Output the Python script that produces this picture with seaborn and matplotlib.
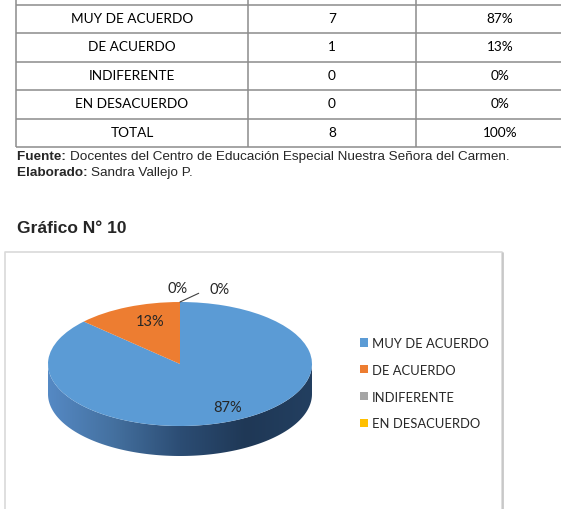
import matplotlib
matplotlib.use("Agg")
import matplotlib.pyplot as plt
import numpy as np
import seaborn as sns
from matplotlib.patches import Polygon
from matplotlib.colors import LinearSegmentedColormap

# Data
categorias = ["MUY DE ACUERDO", "DE ACUERDO", "INDIFERENTE", "EN DESACUERDO"]
frecuencia = [7, 1, 0, 0]
porcentaje = [87, 13, 0, 0]
colores = ["#5B9BD5", "#ED7D31", "#A5A5A5", "#FFC000"]

fuente = "Docentes del Centro de Educación Especial Nuestra Señora del Carmen."
elaborado = "Sandra Vallejo P."
titulo = "Gráfico N° 10"

sns.set_theme(style="white")
plt.rcParams["font.family"] = ["Lato", "DejaVu Sans"]
palette = sns.color_palette(colores)

W, H = 561, 510
fig = plt.figure(figsize=(W / 100, H / 100), dpi=100)
fig.patch.set_facecolor("white")

# Page layer in pixel coordinates
page = fig.add_axes([0, 0, 1, 1])
page.set_xlim(0, W)
page.set_ylim(H, 0)
page.axis("off")

# Table
col_x = [16, 248, 416]
row_y = [5.5 + 28.5 * i for i in range(6)]
line_col = "#8c8c8c"
page.hlines(row_y, col_x[0], W + 5, color=line_col, lw=1.1)
page.vlines(col_x, 0, row_y[-1], color=line_col, lw=1.1)

filas = [(c, str(f), f"{p}%") for c, f, p in zip(categorias, frecuencia, porcentaje)]
filas.append(("TOTAL", str(sum(frecuencia)), f"{sum(porcentaje)}%"))
centros_x = [132, 332, 500]
for i, fila in enumerate(filas):
    yc = (row_y[i] + row_y[i + 1]) / 2 - 1
    for cx, txt in zip(centros_x, fila):
        page.text(cx, yc, txt, ha="center", va="center", fontsize=9.8, color="black")

# Source notes
arial = ["Liberation Sans", "DejaVu Sans"]
t = page.text(17, 157, "Fuente: ", fontsize=9.7, fontweight="bold", family=arial, va="center")
page.annotate(fuente, xycoords=t, xy=(1, 0.5), va="center", fontsize=9.7, family=arial)
t = page.text(17, 173, "Elaborado: ", fontsize=9.7, fontweight="bold", family=arial, va="center")
page.annotate(elaborado, xycoords=t, xy=(1, 0.5), va="center", fontsize=9.7, family=arial)

page.text(17, 229, titulo, fontsize=12.5, fontweight="bold", family=arial, va="center")

# Chart frame
page.plot([5, 5, 502, 502], [H + 5, 253, 253, H + 5], color="#d9d9d9", lw=1.2)
page.plot([503, 503], [254, H + 5], color="#c4c4c4", lw=1.2)

# Pie axes (ellipse center 180,365 ; a=132, b=62 ; depth 30 px)
cx, cy, a, b, dep = 180, 365, 132, 62, 30
d = dep / b
pie_ax = fig.add_axes([(cx - a) / W, (H - (cy + b + dep)) / H, 2 * a / W, (2 * b + dep) / H])
pie_ax.set_facecolor("none")

# Side of the 3D pie
t_side = np.linspace(np.pi, 2 * np.pi, 200)
top = np.column_stack([np.cos(t_side), np.sin(t_side)])
bot = np.column_stack([np.cos(t_side[::-1]), np.sin(t_side[::-1]) - d])
side = Polygon(np.vstack([top, bot]), closed=True, facecolor="none", edgecolor="none")
pie_ax.add_patch(side)
cmap = LinearSegmentedColormap.from_list("lado", ["#5589c4", "#44709f", "#2c4d74", "#1f3856", "#233f60"])
grad = np.linspace(0, 1, 256).reshape(1, -1)
im = pie_ax.imshow(grad, cmap=cmap, extent=[-1, 1, -1 - d, 0], aspect="auto", zorder=1)
im.set_clip_path(side)

wedges, _ = pie_ax.pie(porcentaje, colors=palette, startangle=90, counterclock=False,
                       radius=1, center=(0, 0), wedgeprops=dict(linewidth=0),
                       frame=False)
for w in wedges:
    w.set_zorder(2)
pie_ax.set_aspect("auto")
pie_ax.set_xlim(-1, 1)
pie_ax.set_ylim(-1 - d, 1)
pie_ax.axis("off")

# Percentage labels
for w, p in zip(wedges, porcentaje):
    if p == 0:
        continue
    ang = np.deg2rad((w.theta1 + w.theta2) / 2)
    pie_ax.text(0.74 * np.cos(ang) + 0.07, 0.75 * np.sin(ang), f"{p}%", ha="center", va="center",
                fontsize=10.5, color="#262626", zorder=3)
ceros = [p for p in porcentaje if p == 0]
pie_ax.text(-0.015, 1.23, f"{ceros[0]}%", ha="center", va="center", fontsize=10.5,
            color="#262626", clip_on=False)
pie_ax.annotate(f"{ceros[1]}%", xy=(0, 1.0), xytext=(0.3, 1.21), ha="center", va="center",
                fontsize=10.5, color="#262626", annotation_clip=False,
                arrowprops=dict(arrowstyle="-", color="#404040", lw=0.8,
                                connectionstyle="angle,angleA=0,angleB=25,rad=0",
                                shrinkA=6, shrinkB=0))

# Legend
fig.legend(wedges, categorias, loc="upper left", bbox_to_anchor=(360 / W, 1 - 338 / H),
           frameon=False, fontsize=9.4, handlelength=0.6, handleheight=0.6,
           handletextpad=0.3, labelspacing=1.13, borderaxespad=0, borderpad=0)

fig.savefig("out.png", dpi=100)
